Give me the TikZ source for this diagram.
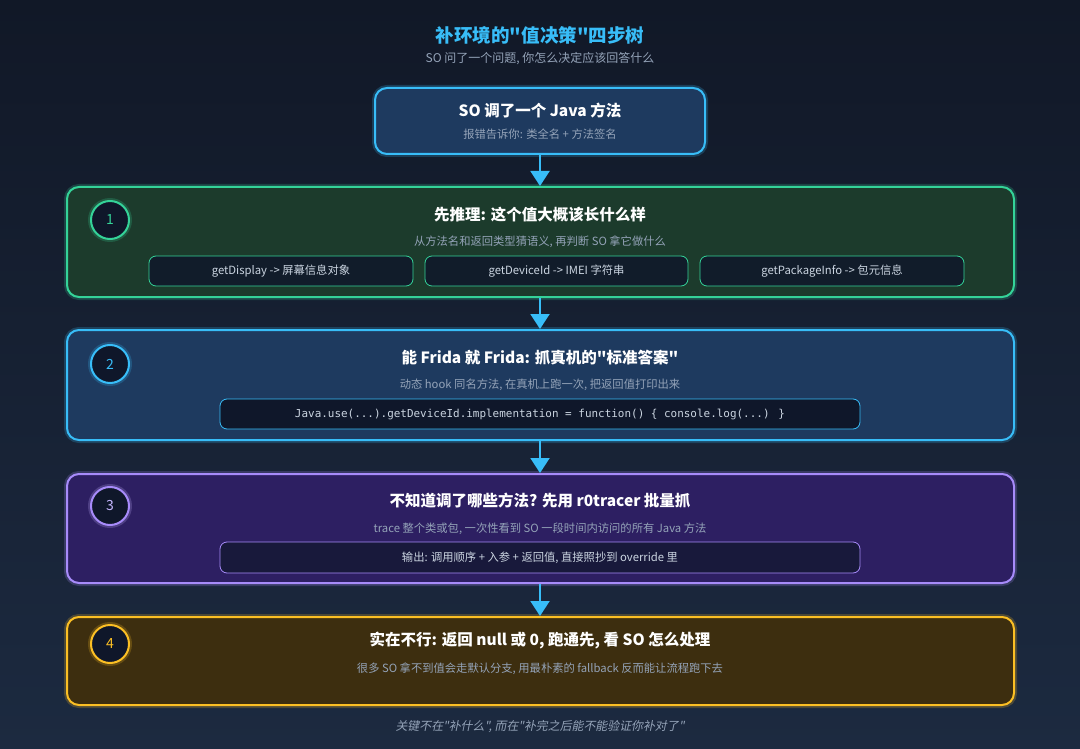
\documentclass[tikz,border=0pt]{standalone}
\usepackage{fontspec}
\setmainfont{Noto Sans CJK SC}[Ligatures=TeXOff]
\newfontfamily\codefont{DejaVu Sans Mono}
\newfontfamily\notefont[FakeSlant=0.2]{Noto Sans CJK SC}
\usetikzlibrary{arrows.meta,fit}
\definecolor{bgtop}{HTML}{111827}
\definecolor{bgbot}{HTML}{1C2A40}
\definecolor{skyline}{HTML}{38BDF8}
\definecolor{skyfill}{HTML}{1E3A5F}
\definecolor{greenline}{HTML}{34D399}
\definecolor{greenfill}{HTML}{1C3B2C}
\definecolor{purpleline}{HTML}{A78BFA}
\definecolor{purplenum}{HTML}{C4B5FD}
\definecolor{purplefill}{HTML}{2D1F62}
\definecolor{goldline}{HTML}{FBBF24}
\definecolor{goldfill}{HTML}{3D2E0F}
\definecolor{badgefill}{HTML}{0F172A}
\definecolor{mutedtext}{HTML}{94A3B8}
\definecolor{pilltext}{HTML}{CBD5E1}
\tikzset{
 glow/.style={preaction={draw=#1,line width=6pt,opacity=.22}},
 stepbox/.style={draw=#1,glow=#1,line width=2pt,rounded corners=12pt,inner sep=0pt},
 badge/.style={circle,draw=#1,glow=#1,line width=2pt,fill=badgefill,minimum size=38pt,inner sep=0pt,text=#1,font=\fontsize{14}{16}\selectfont},
 steptitle/.style={text=white,font=\fontsize{15.5}{18}\selectfont\bfseries},
 stepnote/.style={text=mutedtext,font=\fontsize{11.3}{13}\selectfont},
 pill/.style={draw=#1,line width=.8pt,rounded corners=7pt,inner sep=0pt},
 pilltxt/.style={text=pilltext,font=\fontsize{11.3}{13}\selectfont},
 flow/.style={draw=skyline,line width=2pt,-{Triangle[length=15pt,width=19pt]}}
}
\begin{document}
\begin{tikzpicture}[x=1pt,y=-1pt]
\fill[top color=bgtop,bottom color=bgbot] (0,0) rectangle (1080,749);
\useasboundingbox (0,0) rectangle (1080,749);
% heading
\node[text=skyline,font=\fontsize{18.5}{21}\selectfont\bfseries] (head) at (540,35) {补环境的"值决策"四步树};
\node[text=mutedtext,font=\fontsize{12}{14}\selectfont] (headsub) at (540,59) {SO 问了一个问题, 你怎么决定应该回答什么};
% entry box
\node[stepbox=skyline,fill=skyfill,fit={(375,88) (705,154)}] (top) {};
\node[steptitle] (toptitle) at (540,111) {SO 调了一个 Java 方法};
\node[stepnote] (topnote) at (540,134) {报错告诉你: 类全名 + 方法签名};
% step 1
\node[stepbox=greenline,fill=greenfill,fit={(67,187) (1014,297)}] (s1) {};
\node[badge=greenline] (s1n) at (110,220) {1};
\node[steptitle] (s1t) at (540,215) {先推理: 这个值大概该长什么样};
\node[stepnote] (s1s) at (540,242) {从方法名和返回类型猜语义, 再判断 SO 拿它做什么};
\node[pill=greenline,fill=badgefill!85!greenfill,fit={(149,256) (413,286)}] (p1) {};
\node[pill=greenline,fill=badgefill!85!greenfill,fit={(425,256) (688,286)}] (p2) {};
\node[pill=greenline,fill=badgefill!85!greenfill,fit={(700,256) (964,286)}] (p3) {};
\node[pilltxt] at (p1.center) {getDisplay -> 屏幕信息对象};
\node[pilltxt] at (p2.center) {getDeviceId -> IMEI 字符串};
\node[pilltxt] at (p3.center) {getPackageInfo -> 包元信息};
% step 2
\node[stepbox=skyline,fill=skyfill,fit={(67,330) (1014,440)}] (s2) {};
\node[badge=skyline] (s2n) at (110,364) {2};
\node[steptitle] (s2t) at (540,358) {能 Frida 就 Frida: 抓真机的"标准答案"};
\node[stepnote] (s2s) at (540,385) {动态 hook 同名方法, 在真机上跑一次, 把返回值打印出来};
\node[pill=skyline,fill=badgefill,fit={(220,399) (860,429)}] (c2) {};
\node[text=pilltext,font=\fontsize{10.95}{13}\codefont] at (c2.center) {Java.use(...).getDeviceId.implementation = function() \{ console.log(...) \}};
% step 3
\node[stepbox=purpleline,fill=purplefill,fit={(67,474) (1014,583)}] (s3) {};
\node[badge=purplenum,draw=purpleline] (s3n) at (110,506) {3};
\node[steptitle] (s3t) at (540,501) {不知道调了哪些方法? 先用 r0tracer 批量抓};
\node[stepnote] (s3s) at (540,529) {trace 整个类或包, 一次性看到 SO 一段时间内访问的所有 Java 方法};
\node[pill=purpleline,fill=badgefill!70!purplefill,fit={(220,542) (860,573)}] (c3) {};
\node[pilltxt] at (c3.center) {输出: 调用顺序 + 入参 + 返回值, 直接照抄到 override 里};
% step 4
\node[stepbox=goldline,fill=goldfill,fit={(67,617) (1014,705)}] (s4) {};
\node[badge=goldline] (s4n) at (110,644) {4};
\node[steptitle] (s4t) at (540,641) {实在不行: 返回 null 或 0, 跑通先, 看 SO 怎么处理};
\node[stepnote] (s4s) at (540,669) {很多 SO 拿不到值会走默认分支, 用最朴素的 fallback 反而能让流程跑下去};
% arrows
\draw[flow] (top.south) -- (top.south |- s1.north);
\draw[flow] (s1.south -| top.south) -- (top.south |- s2.north);
\draw[flow] (s2.south -| top.south) -- (top.south |- s3.north);
\draw[flow] (s3.south -| top.south) -- (top.south |- s4.north);
% footer
\node[text=mutedtext,font=\fontsize{11.9}{14}\notefont] (foot) at (540,727) {关键不在"补什么", 而在"补完之后能不能验证你补对了"};
\end{tikzpicture}
\end{document}
